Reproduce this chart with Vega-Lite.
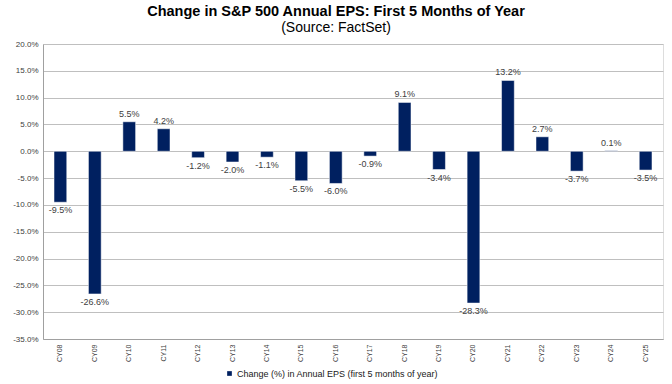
{
  "$schema": "https://vega.github.io/schema/vega-lite/v6.json",
  "width": 620,
  "height": 295,
  "autosize": {"type": "none"},
  "padding": {"left": 43, "top": 44, "right": 9, "bottom": 45},
  "background": "white",
  "config": {
    "locale": {
      "number": {"decimal": ".", "thousands": ",", "grouping": [3], "currency": ["$", ""], "minus": "-"}
    }
  },
  "title": {
    "text": "Change in S&P 500 Annual EPS: First 5 Months of Year",
    "subtitle": "(Source: FactSet)",
    "anchor": "middle",
    "dx": -17,
    "offset": 4,
    "font": "Liberation Sans",
    "fontSize": 14.5,
    "fontWeight": "bold",
    "color": "#000000",
    "subtitleFont": "Liberation Sans",
    "subtitleFontSize": 14,
    "subtitleColor": "#000000",
    "subtitlePadding": 2
  },
  "data": {
    "values": [
      {"year": "CY08", "change": -0.095, "series": "Change (%) in Annual EPS (first 5 months of year)"},
      {"year": "CY09", "change": -0.266, "series": "Change (%) in Annual EPS (first 5 months of year)"},
      {"year": "CY10", "change": 0.055, "series": "Change (%) in Annual EPS (first 5 months of year)"},
      {"year": "CY11", "change": 0.042, "series": "Change (%) in Annual EPS (first 5 months of year)"},
      {"year": "CY12", "change": -0.012, "series": "Change (%) in Annual EPS (first 5 months of year)"},
      {"year": "CY13", "change": -0.020, "series": "Change (%) in Annual EPS (first 5 months of year)"},
      {"year": "CY14", "change": -0.011, "series": "Change (%) in Annual EPS (first 5 months of year)"},
      {"year": "CY15", "change": -0.055, "series": "Change (%) in Annual EPS (first 5 months of year)"},
      {"year": "CY16", "change": -0.060, "series": "Change (%) in Annual EPS (first 5 months of year)"},
      {"year": "CY17", "change": -0.009, "series": "Change (%) in Annual EPS (first 5 months of year)"},
      {"year": "CY18", "change": 0.091, "series": "Change (%) in Annual EPS (first 5 months of year)"},
      {"year": "CY19", "change": -0.034, "series": "Change (%) in Annual EPS (first 5 months of year)"},
      {"year": "CY20", "change": -0.283, "series": "Change (%) in Annual EPS (first 5 months of year)"},
      {"year": "CY21", "change": 0.132, "series": "Change (%) in Annual EPS (first 5 months of year)"},
      {"year": "CY22", "change": 0.027, "series": "Change (%) in Annual EPS (first 5 months of year)"},
      {"year": "CY23", "change": -0.037, "series": "Change (%) in Annual EPS (first 5 months of year)"},
      {"year": "CY24", "change": 0.001, "series": "Change (%) in Annual EPS (first 5 months of year)"},
      {"year": "CY25", "change": -0.035, "series": "Change (%) in Annual EPS (first 5 months of year)"}
    ]
  },
  "encoding": {
    "x": {
      "field": "year",
      "type": "nominal",
      "sort": null,
      "title": null,
      "scale": {"paddingInner": 0.63, "paddingOuter": 0.32},
      "axis": {
        "labelAngle": -90,
        "labelFont": "Liberation Sans",
        "labelFontSize": 7,
        "labelColor": "#404040",
        "labelPadding": 5,
        "domainColor": "#A0A0A0",
        "ticks": false,
        "grid": false
      }
    },
    "y": {
      "field": "change",
      "type": "quantitative",
      "title": null,
      "scale": {"domain": [-0.35, 0.2], "nice": false},
      "axis": {
        "values": [-0.35, -0.3, -0.25, -0.2, -0.15, -0.1, -0.05, 0, 0.05, 0.1, 0.15, 0.2],
        "format": ".1%",
        "labelFont": "Liberation Sans",
        "labelFontSize": 8,
        "labelColor": "#404040",
        "labelPadding": 5,
        "domainColor": "#A0A0A0",
        "ticks": false,
        "gridColor": "#BFBFBF",
        "gridWidth": 1
      }
    }
  },
  "layer": [
    {
      "mark": {"type": "bar", "stroke": "#FFFFFF", "strokeWidth": 0.5},
      "encoding": {
        "color": {
          "field": "series",
          "type": "nominal",
          "scale": {"range": ["#002060"]},
          "legend": {
            "title": null,
            "orient": "none",
            "legendX": 182,
            "legendY": 325,
            "direction": "horizontal",
            "symbolType": "square",
            "symbolSize": 22,
            "symbolStrokeWidth": 0,
            "labelFont": "Liberation Sans",
            "labelFontSize": 9,
            "labelLimit": 0,
            "labelOffset": 3,
            "labelColor": "#202020"
          }
        }
      }
    },
    {
      "transform": [{"filter": "datum.change >= 0"}],
      "mark": {
        "type": "text",
        "font": "Liberation Sans",
        "fontSize": 9,
        "color": "#404040",
        "baseline": "alphabetic",
        "dy": -5
      },
      "encoding": {
        "text": {"field": "change", "type": "quantitative", "format": ".1%"}
      }
    },
    {
      "transform": [{"filter": "datum.change < 0"}],
      "mark": {
        "type": "text",
        "font": "Liberation Sans",
        "fontSize": 9,
        "color": "#404040",
        "baseline": "top",
        "dy": 4
      },
      "encoding": {
        "text": {"field": "change", "type": "quantitative", "format": ".1%"}
      }
    }
  ]
}
